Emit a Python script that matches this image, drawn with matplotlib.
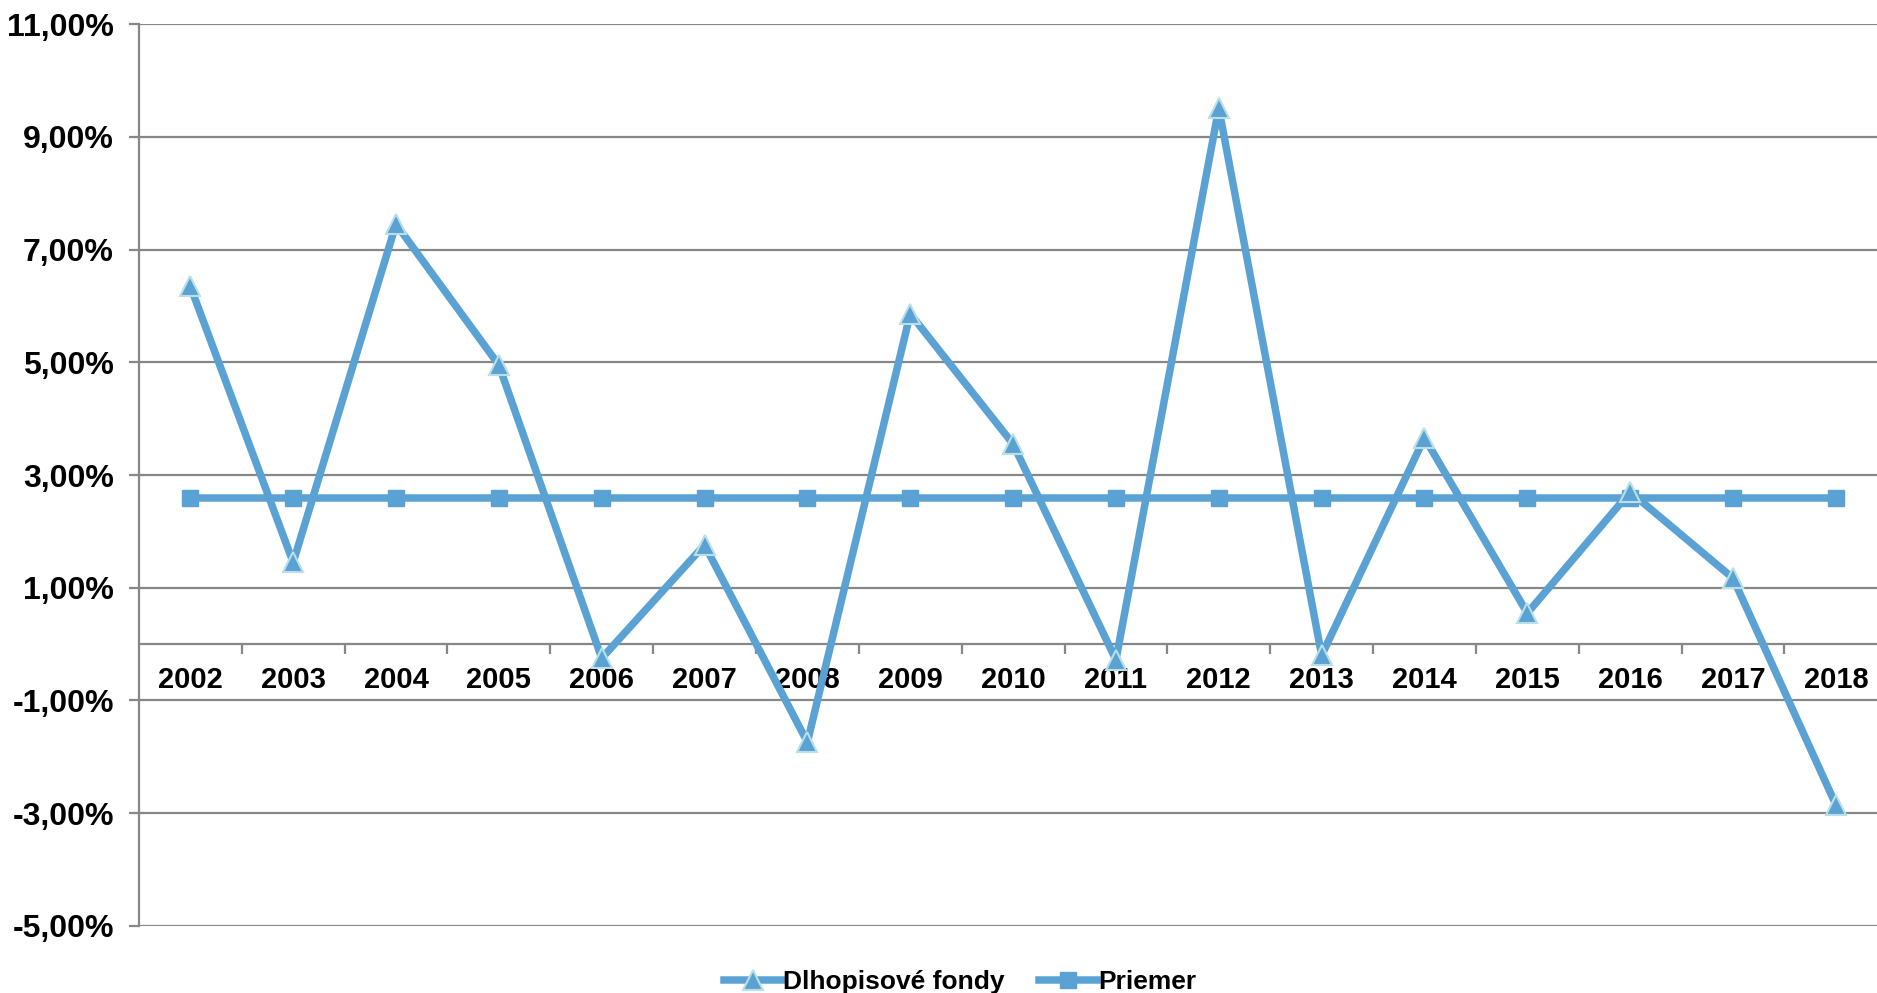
import matplotlib
matplotlib.use("Agg")
import matplotlib.pyplot as plt
from matplotlib.ticker import FixedLocator, FuncFormatter

years = ["2002", "2003", "2004", "2005", "2006", "2007", "2008", "2009", "2010",
         "2011", "2012", "2013", "2014", "2015", "2016", "2017", "2018"]
dlhopisove = [6.35, 1.45, 7.45, 4.95, -0.25, 1.76, -1.74, 5.86, 3.55,
              -0.28, 9.51, -0.2, 3.66, 0.55, 2.70, 1.17, -2.85]
priemer = [2.59] * len(years)
yticks = [-5, -3, -1, 1, 3, 5, 7, 9, 11]

plt.rcParams['font.family'] = ['Liberation Sans', 'DejaVu Sans']
plt.rcParams['font.weight'] = 'bold'

fig = plt.figure(figsize=(18.77, 9.93), dpi=100)
ax = fig.add_axes([0.074, 0.0675, 0.926, 0.9083])

blue = '#5BA2D4'
x = list(range(len(years)))
ax.plot(x, priemer, color=blue, lw=5.4, marker='s', markersize=11,
        markerfacecolor=blue, markeredgecolor=blue, label='Priemer', zorder=3)
ax.plot(x, dlhopisove, color=blue, lw=5.4, marker='^', markersize=15,
        markerfacecolor=blue, markeredgecolor='#B8E0E6', markeredgewidth=1.5,
        label='Dlhopisové fondy', zorder=4)

ax.set_ylim(-5, 11)
ax.set_xlim(-0.5, 16.4)

grid_c = '#878787'
ax.yaxis.set_major_locator(FixedLocator(yticks))
ax.yaxis.set_major_formatter(FuncFormatter(lambda v, p: f"{v:.2f}".replace('.', ',') + "%"))
ax.grid(axis='y', color=grid_c, lw=1.6, zorder=1)
ax.tick_params(axis='y', direction='out', length=7, width=1.6, color=grid_c,
               labelsize=23, pad=11)
for lbl in ax.get_yticklabels():
    lbl.set_fontweight('bold')

ax.spines['top'].set_visible(False)
ax.spines['right'].set_visible(False)
ax.spines['left'].set_color(grid_c)
ax.spines['left'].set_linewidth(1.6)
ax.spines['bottom'].set_position(('data', 0))
ax.spines['bottom'].set_color(grid_c)
ax.spines['bottom'].set_linewidth(1.6)

ax.set_xticks(x)
ax.set_xticklabels(years, fontsize=21, fontweight='bold')
ax.tick_params(axis='x', which='major', length=0, pad=16)
ax.set_xticks([i + 0.5 for i in range(len(years) - 1)], minor=True)
ax.tick_params(axis='x', which='minor', direction='out', length=7, width=1.6, color=grid_c)

handles, labels = ax.get_legend_handles_labels()
leg = fig.legend(handles[::-1], labels[::-1], loc='center', bbox_to_anchor=(0.5115, 0.011),
                 ncol=2, frameon=False, handlelength=2.2,
                 handletextpad=0.05, columnspacing=1.3, prop={'weight': 'bold', 'size': 19})

fig.savefig('out.png', dpi=100)
